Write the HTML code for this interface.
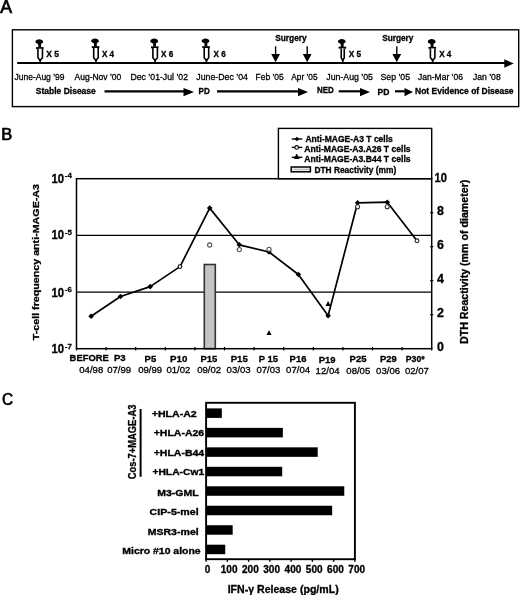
<!DOCTYPE html>
<html><head><meta charset="utf-8"><style>
html,body{margin:0;padding:0;background:#fff;width:520px;height:595px;overflow:hidden}
svg{display:block;font-family:"Liberation Sans", sans-serif;will-change:transform}
</style></head><body>
<svg width="520" height="595" viewBox="0 0 520 595">
<rect width="520" height="595" fill="#fff"/>
<text x="0.3" y="12.7" font-size="17.6" textLength="11.8" lengthAdjust="spacingAndGlyphs" fill="#000" stroke="#000" stroke-width="0.7">A</text>
<rect x="12.4" y="29.8" width="506.3" height="76.8" fill="none" stroke="#000" stroke-width="1.4"/>
<line x1="17.2" y1="63" x2="506" y2="63" stroke="#000" stroke-width="2.2"/>
<polygon points="504.3,59.3 513.8,63.4 504.3,67.8" fill="#000"/>
<path d="M35.35,42.10 C35.35,40.20 37.55,39.30 39.25,39.30 C41.05,39.30 43.15,40.20 43.15,42.10 C43.15,43.10 41.05,43.80 40.85,44.40 L38.05,44.40 C37.85,43.80 35.35,43.10 35.35,42.10 Z" fill="#000"/>
<rect x="38.25" y="44.0" width="2.8" height="3.4" fill="#000"/>
<rect x="36.05" y="47.1" width="7.6" height="1.9" fill="#000"/>
<path d="M37.95,48.80 L37.95,57.80 L40.20,60.40 L42.45,57.80 L42.45,48.80" fill="#fff" stroke="#000" stroke-width="1.6" stroke-linejoin="round"/>
<rect x="39.4" y="59.7" width="1.6" height="2.6" fill="#000"/>
<path d="M91.10,41.20 C91.10,39.30 93.30,38.40 95.00,38.40 C96.80,38.40 98.90,39.30 98.90,41.20 C98.90,42.20 96.80,42.90 96.60,43.50 L93.80,43.50 C93.60,42.90 91.10,42.20 91.10,41.20 Z" fill="#000"/>
<rect x="94.0" y="43.1" width="2.8" height="3.4" fill="#000"/>
<rect x="91.8" y="46.2" width="7.6" height="1.9" fill="#000"/>
<path d="M93.70,47.90 L93.70,57.80 L95.95,60.40 L98.20,57.80 L98.20,47.90" fill="#fff" stroke="#000" stroke-width="1.6" stroke-linejoin="round"/>
<rect x="95.14999999999999" y="59.7" width="1.6" height="2.6" fill="#000"/>
<path d="M150.30,41.40 C150.30,39.50 152.50,38.60 154.20,38.60 C156.00,38.60 158.10,39.50 158.10,41.40 C158.10,42.40 156.00,43.10 155.80,43.70 L153.00,43.70 C152.80,43.10 150.30,42.40 150.30,41.40 Z" fill="#000"/>
<rect x="153.2" y="43.300000000000004" width="2.8" height="3.4" fill="#000"/>
<rect x="151.0" y="46.400000000000006" width="7.6" height="1.9" fill="#000"/>
<path d="M152.90,48.10 L152.90,57.80 L155.15,60.40 L157.40,57.80 L157.40,48.10" fill="#fff" stroke="#000" stroke-width="1.6" stroke-linejoin="round"/>
<rect x="154.35" y="59.7" width="1.6" height="2.6" fill="#000"/>
<path d="M201.60,41.20 C201.60,39.30 203.80,38.40 205.50,38.40 C207.30,38.40 209.40,39.30 209.40,41.20 C209.40,42.20 207.30,42.90 207.10,43.50 L204.30,43.50 C204.10,42.90 201.60,42.20 201.60,41.20 Z" fill="#000"/>
<rect x="204.5" y="43.1" width="2.8" height="3.4" fill="#000"/>
<rect x="202.3" y="46.2" width="7.6" height="1.9" fill="#000"/>
<path d="M204.20,47.90 L204.20,57.80 L206.45,60.40 L208.70,57.80 L208.70,47.90" fill="#fff" stroke="#000" stroke-width="1.6" stroke-linejoin="round"/>
<rect x="205.65" y="59.7" width="1.6" height="2.6" fill="#000"/>
<path d="M427.80,41.90 C427.80,40.00 430.00,39.10 431.70,39.10 C433.50,39.10 435.60,40.00 435.60,41.90 C435.60,42.90 433.50,43.60 433.30,44.20 L430.50,44.20 C430.30,43.60 427.80,42.90 427.80,41.90 Z" fill="#000"/>
<rect x="430.7" y="43.800000000000004" width="2.8" height="3.4" fill="#000"/>
<rect x="428.5" y="46.900000000000006" width="7.6" height="1.9" fill="#000"/>
<path d="M430.40,48.60 L430.40,57.80 L432.65,60.40 L434.90,57.80 L434.90,48.60" fill="#fff" stroke="#000" stroke-width="1.6" stroke-linejoin="round"/>
<rect x="431.85" y="59.7" width="1.6" height="2.6" fill="#000"/>
<path d="M337.90,41.70 C337.90,39.80 340.10,38.90 341.80,38.90 C343.60,38.90 345.70,39.80 345.70,41.70 C345.70,42.70 343.60,43.40 343.40,44.00 L340.60,44.00 C340.40,43.40 337.90,42.70 337.90,41.70 Z" fill="#000"/>
<rect x="340.8" y="43.6" width="2.8" height="3.4" fill="#000"/>
<rect x="338.6" y="46.7" width="7.6" height="1.9" fill="#000"/>
<path d="M341.25,48.40 L341.25,57.80 L342.75,60.40 L344.25,57.80 L344.25,48.40" fill="#fff" stroke="#000" stroke-width="1.6" stroke-linejoin="round"/>
<rect x="341.95000000000005" y="59.7" width="1.6" height="2.6" fill="#000"/>
<text x="46.2" y="57" font-size="8.6" font-weight="bold" textLength="12.8" lengthAdjust="spacingAndGlyphs" fill="#000" stroke="#000" stroke-width="0.3">X 5</text>
<text x="101.9" y="56.5" font-size="8.6" font-weight="bold" textLength="12.2" lengthAdjust="spacingAndGlyphs" fill="#000" stroke="#000" stroke-width="0.3">X 4</text>
<text x="161" y="56.5" font-size="8.6" font-weight="bold" textLength="12.2" lengthAdjust="spacingAndGlyphs" fill="#000" stroke="#000" stroke-width="0.3">X 6</text>
<text x="213.6" y="56.5" font-size="8.6" font-weight="bold" textLength="12.2" lengthAdjust="spacingAndGlyphs" fill="#000" stroke="#000" stroke-width="0.3">X 6</text>
<text x="348.8" y="56.5" font-size="8.6" font-weight="bold" textLength="12.4" lengthAdjust="spacingAndGlyphs" fill="#000" stroke="#000" stroke-width="0.3">X 5</text>
<text x="439.2" y="56.5" font-size="8.6" font-weight="bold" textLength="12.2" lengthAdjust="spacingAndGlyphs" fill="#000" stroke="#000" stroke-width="0.3">X 4</text>
<rect x="274.90000000000003" y="46.3" width="1.4" height="8.5" fill="#000"/>
<polygon points="271.20000000000005,54 280.0,54 275.6,62.2" fill="#000"/>
<rect x="306.5" y="46.3" width="1.4" height="8.5" fill="#000"/>
<polygon points="302.8,54 311.59999999999997,54 307.2,62.2" fill="#000"/>
<rect x="396.1" y="46.3" width="1.4" height="8.5" fill="#000"/>
<polygon points="392.40000000000003,54 401.2,54 396.8,62.2" fill="#000"/>
<text x="275.2" y="41" font-size="8.5" font-weight="bold" textLength="31.5" lengthAdjust="spacingAndGlyphs" fill="#000" stroke="#000" stroke-width="0.3">Surgery</text>
<text x="382.2" y="41" font-size="8.5" font-weight="bold" textLength="31.2" lengthAdjust="spacingAndGlyphs" fill="#000" stroke="#000" stroke-width="0.3">Surgery</text>
<text x="14.5" y="79.5" font-size="9.3" textLength="50" lengthAdjust="spacingAndGlyphs" fill="#000" stroke="#000" stroke-width="0.3">June-Aug ’99</text>
<text x="74.5" y="79.5" font-size="9.3" textLength="46.8" lengthAdjust="spacingAndGlyphs" fill="#000" stroke="#000" stroke-width="0.3">Aug-Nov ’00</text>
<text x="130.5" y="79.5" font-size="9.3" textLength="57.5" lengthAdjust="spacingAndGlyphs" fill="#000" stroke="#000" stroke-width="0.3">Dec ’01-Jul ’02</text>
<text x="196.25" y="79.5" font-size="9.3" textLength="51.75" lengthAdjust="spacingAndGlyphs" fill="#000" stroke="#000" stroke-width="0.3">June-Dec ’04</text>
<text x="255.5" y="79.5" font-size="9.3" textLength="28.25" lengthAdjust="spacingAndGlyphs" fill="#000" stroke="#000" stroke-width="0.3">Feb ’05</text>
<text x="291.25" y="79.5" font-size="9.3" textLength="26.25" lengthAdjust="spacingAndGlyphs" fill="#000" stroke="#000" stroke-width="0.3">Apr ’05</text>
<text x="326.25" y="79.5" font-size="9.3" textLength="46.75" lengthAdjust="spacingAndGlyphs" fill="#000" stroke="#000" stroke-width="0.3">Jun-Aug ’05</text>
<text x="380.5" y="79.5" font-size="9.3" textLength="29.5" lengthAdjust="spacingAndGlyphs" fill="#000" stroke="#000" stroke-width="0.3">Sep ’05</text>
<text x="418" y="79.5" font-size="9.3" textLength="45" lengthAdjust="spacingAndGlyphs" fill="#000" stroke="#000" stroke-width="0.3">Jan-Mar ’06</text>
<text x="472.9" y="79.5" font-size="9.3" textLength="27.8" lengthAdjust="spacingAndGlyphs" fill="#000" stroke="#000" stroke-width="0.3">Jan ’08</text>
<text x="35.8" y="94.3" font-size="8.6" font-weight="bold" textLength="60" lengthAdjust="spacingAndGlyphs" fill="#000" stroke="#000" stroke-width="0.3">Stable Disease</text>
<text x="198.5" y="93.8" font-size="8.5" font-weight="bold" textLength="11.2" lengthAdjust="spacingAndGlyphs" fill="#000" stroke="#000" stroke-width="0.3">PD</text>
<text x="317" y="93.4" font-size="8.5" font-weight="bold" textLength="16.75" lengthAdjust="spacingAndGlyphs" fill="#000" stroke="#000" stroke-width="0.3">NED</text>
<text x="377.5" y="94.5" font-size="8.5" font-weight="bold" textLength="12" lengthAdjust="spacingAndGlyphs" fill="#000" stroke="#000" stroke-width="0.3">PD</text>
<text x="415" y="93.6" font-size="8.5" font-weight="bold" textLength="98.6" lengthAdjust="spacingAndGlyphs" fill="#000" stroke="#000" stroke-width="0.3">Not Evidence of Disease</text>
<line x1="104.5" y1="91.3" x2="184.5" y2="91.3" stroke="#000" stroke-width="2.2"/>
<polygon points="183.5,88.1 194,92.0 183.5,96.3" fill="#000"/>
<line x1="217" y1="91.3" x2="299" y2="91.3" stroke="#000" stroke-width="2.2"/>
<polygon points="298,88.1 308,92.0 298,96.3" fill="#000"/>
<line x1="338.75" y1="91.3" x2="361" y2="91.3" stroke="#000" stroke-width="2.2"/>
<polygon points="360,88.1 370,92.0 360,96.3" fill="#000"/>
<line x1="395" y1="91.3" x2="405.5" y2="91.3" stroke="#000" stroke-width="2.2"/>
<polygon points="404.5,88.1 413,92.0 404.5,96.3" fill="#000"/>
<text x="1.2" y="139.8" font-size="17.2" textLength="11.0" lengthAdjust="spacingAndGlyphs" fill="#000" stroke="#000" stroke-width="0.7">B</text>
<line x1="76.5" y1="235.36666666666665" x2="431.7" y2="235.36666666666665" stroke="#000" stroke-width="1.3"/>
<line x1="76.5" y1="292.0333333333333" x2="431.7" y2="292.0333333333333" stroke="#000" stroke-width="1.3"/>
<rect x="204.3" y="264.5" width="11.0" height="84.19999999999999" fill="#c4c4c4" stroke="#333" stroke-width="1.6"/>
<rect x="76.5" y="178.7" width="355.2" height="170.0" fill="none" stroke="#000" stroke-width="1.5"/>
<line x1="76.5" y1="346.9" x2="76.5" y2="350.5" stroke="#000" stroke-width="1.2"/>
<line x1="106.1" y1="346.9" x2="106.1" y2="350.5" stroke="#000" stroke-width="1.2"/>
<line x1="135.7" y1="346.9" x2="135.7" y2="350.5" stroke="#000" stroke-width="1.2"/>
<line x1="165.3" y1="346.9" x2="165.3" y2="350.5" stroke="#000" stroke-width="1.2"/>
<line x1="194.89999999999998" y1="346.9" x2="194.89999999999998" y2="350.5" stroke="#000" stroke-width="1.2"/>
<line x1="224.5" y1="346.9" x2="224.5" y2="350.5" stroke="#000" stroke-width="1.2"/>
<line x1="254.1" y1="346.9" x2="254.1" y2="350.5" stroke="#000" stroke-width="1.2"/>
<line x1="283.7" y1="346.9" x2="283.7" y2="350.5" stroke="#000" stroke-width="1.2"/>
<line x1="313.29999999999995" y1="346.9" x2="313.29999999999995" y2="350.5" stroke="#000" stroke-width="1.2"/>
<line x1="342.9" y1="346.9" x2="342.9" y2="350.5" stroke="#000" stroke-width="1.2"/>
<line x1="372.5" y1="346.9" x2="372.5" y2="350.5" stroke="#000" stroke-width="1.2"/>
<line x1="402.09999999999997" y1="346.9" x2="402.09999999999997" y2="350.5" stroke="#000" stroke-width="1.2"/>
<line x1="431.7" y1="346.9" x2="431.7" y2="350.5" stroke="#000" stroke-width="1.2"/>
<line x1="430.09999999999997" y1="314.7" x2="433.3" y2="314.7" stroke="#000" stroke-width="1.2"/>
<line x1="430.09999999999997" y1="280.7" x2="433.3" y2="280.7" stroke="#000" stroke-width="1.2"/>
<line x1="430.09999999999997" y1="246.7" x2="433.3" y2="246.7" stroke="#000" stroke-width="1.2"/>
<line x1="430.09999999999997" y1="212.7" x2="433.3" y2="212.7" stroke="#000" stroke-width="1.2"/>
<text x="51.5" y="183.2" font-size="12.8" font-weight="bold" textLength="12.6" lengthAdjust="spacingAndGlyphs" fill="#000" stroke="#000" stroke-width="0.3">10</text>
<text x="64.8" y="178.4" font-size="7.8" font-weight="bold" textLength="7.0" lengthAdjust="spacingAndGlyphs" fill="#000" stroke="#000" stroke-width="0.3">-4</text>
<text x="51.5" y="238.9" font-size="12.8" font-weight="bold" textLength="12.6" lengthAdjust="spacingAndGlyphs" fill="#000" stroke="#000" stroke-width="0.3">10</text>
<text x="64.8" y="234.7" font-size="7.8" font-weight="bold" textLength="7.0" lengthAdjust="spacingAndGlyphs" fill="#000" stroke="#000" stroke-width="0.3">-5</text>
<text x="51.5" y="296.8" font-size="12.8" font-weight="bold" textLength="12.6" lengthAdjust="spacingAndGlyphs" fill="#000" stroke="#000" stroke-width="0.3">10</text>
<text x="64.8" y="292.2" font-size="7.8" font-weight="bold" textLength="7.0" lengthAdjust="spacingAndGlyphs" fill="#000" stroke="#000" stroke-width="0.3">-6</text>
<text x="51.5" y="353.4" font-size="12.8" font-weight="bold" textLength="12.6" lengthAdjust="spacingAndGlyphs" fill="#000" stroke="#000" stroke-width="0.3">10</text>
<text x="64.8" y="349.1" font-size="7.8" font-weight="bold" textLength="7.0" lengthAdjust="spacingAndGlyphs" fill="#000" stroke="#000" stroke-width="0.3">-7</text>
<text x="434.6" y="181.9" font-size="12.4" font-weight="bold" textLength="12.4" lengthAdjust="spacingAndGlyphs" fill="#000" stroke="#000" stroke-width="0.3">10</text>
<text x="440.5" y="214.5" font-size="12.4" font-weight="bold" text-anchor="middle" fill="#000" stroke="#000" stroke-width="0.3">8</text>
<text x="440.5" y="249.2" font-size="12.4" font-weight="bold" text-anchor="middle" fill="#000" stroke="#000" stroke-width="0.3">6</text>
<text x="440.5" y="283.2" font-size="12.4" font-weight="bold" text-anchor="middle" fill="#000" stroke="#000" stroke-width="0.3">4</text>
<text x="440.5" y="317.2" font-size="12.4" font-weight="bold" text-anchor="middle" fill="#000" stroke="#000" stroke-width="0.3">2</text>
<text x="440.5" y="351.2" font-size="12.4" font-weight="bold" text-anchor="middle" fill="#000" stroke="#000" stroke-width="0.3">0</text>
<text transform="translate(39.4,262.1) rotate(-90)" text-anchor="middle" font-size="9.7" font-weight="bold" stroke="#000" stroke-width="0.3" textLength="156.2" lengthAdjust="spacingAndGlyphs">T-cell frequency anti-MAGE-A3</text>
<text transform="translate(467.8,261.8) rotate(-90)" text-anchor="middle" font-size="10.3" font-weight="bold" stroke="#000" stroke-width="0.3" textLength="164.4" lengthAdjust="spacingAndGlyphs">DTH Reactivity (mm of diameter)</text>
<text x="89.2" y="361.2" font-size="9.2" font-weight="bold" text-anchor="middle" textLength="39.2" lengthAdjust="spacingAndGlyphs" fill="#000" stroke="#000" stroke-width="0.3">BEFORE</text>
<text x="119.85" y="361.2" font-size="9.2" font-weight="bold" text-anchor="middle" textLength="11.7" lengthAdjust="spacingAndGlyphs" fill="#000" stroke="#000" stroke-width="0.3">P3</text>
<text x="150.4" y="362" font-size="9.2" font-weight="bold" text-anchor="middle" textLength="11.6" lengthAdjust="spacingAndGlyphs" fill="#000" stroke="#000" stroke-width="0.3">P5</text>
<text x="178.7" y="361.5" font-size="9.2" font-weight="bold" text-anchor="middle" textLength="17.3" lengthAdjust="spacingAndGlyphs" fill="#000" stroke="#000" stroke-width="0.3">P10</text>
<text x="208.9" y="361.5" font-size="9.2" font-weight="bold" text-anchor="middle" textLength="16.8" lengthAdjust="spacingAndGlyphs" fill="#000" stroke="#000" stroke-width="0.3">P15</text>
<text x="239.2" y="361.5" font-size="9.2" font-weight="bold" text-anchor="middle" textLength="17.1" lengthAdjust="spacingAndGlyphs" fill="#000" stroke="#000" stroke-width="0.3">P15</text>
<text x="268.4" y="361.5" font-size="9.2" font-weight="bold" text-anchor="middle" textLength="19.2" lengthAdjust="spacingAndGlyphs" fill="#000" stroke="#000" stroke-width="0.3">P 15</text>
<text x="298" y="361.5" font-size="9.2" font-weight="bold" text-anchor="middle" textLength="16.8" lengthAdjust="spacingAndGlyphs" fill="#000" stroke="#000" stroke-width="0.3">P16</text>
<text x="327.1" y="362.9" font-size="9.2" font-weight="bold" text-anchor="middle" textLength="16.8" lengthAdjust="spacingAndGlyphs" fill="#000" stroke="#000" stroke-width="0.3">P19</text>
<text x="358" y="361.8" font-size="9.2" font-weight="bold" text-anchor="middle" textLength="16.9" lengthAdjust="spacingAndGlyphs" fill="#000" stroke="#000" stroke-width="0.3">P25</text>
<text x="388.3" y="361.8" font-size="9.2" font-weight="bold" text-anchor="middle" textLength="16.7" lengthAdjust="spacingAndGlyphs" fill="#000" stroke="#000" stroke-width="0.3">P29</text>
<text x="415.2" y="361.8" font-size="9.2" font-weight="bold" text-anchor="middle" textLength="18.8" lengthAdjust="spacingAndGlyphs" fill="#000" stroke="#000" stroke-width="0.3">P30*</text>
<text x="91.25" y="372.8" font-size="9.4" text-anchor="middle" textLength="24" lengthAdjust="spacingAndGlyphs" fill="#000" stroke="#000" stroke-width="0.3">04/98</text>
<text x="119.15" y="372.8" font-size="9.4" text-anchor="middle" textLength="24" lengthAdjust="spacingAndGlyphs" fill="#000" stroke="#000" stroke-width="0.3">07/99</text>
<text x="150.2" y="373.3" font-size="9.4" text-anchor="middle" textLength="24" lengthAdjust="spacingAndGlyphs" fill="#000" stroke="#000" stroke-width="0.3">09/99</text>
<text x="178.4" y="372.8" font-size="9.4" text-anchor="middle" textLength="24" lengthAdjust="spacingAndGlyphs" fill="#000" stroke="#000" stroke-width="0.3">01/02</text>
<text x="209.2" y="372.8" font-size="9.4" text-anchor="middle" textLength="24" lengthAdjust="spacingAndGlyphs" fill="#000" stroke="#000" stroke-width="0.3">09/02</text>
<text x="238.6" y="372.8" font-size="9.4" text-anchor="middle" textLength="24" lengthAdjust="spacingAndGlyphs" fill="#000" stroke="#000" stroke-width="0.3">03/03</text>
<text x="268.4" y="372.8" font-size="9.4" text-anchor="middle" textLength="24" lengthAdjust="spacingAndGlyphs" fill="#000" stroke="#000" stroke-width="0.3">07/03</text>
<text x="298.1" y="372.8" font-size="9.4" text-anchor="middle" textLength="24" lengthAdjust="spacingAndGlyphs" fill="#000" stroke="#000" stroke-width="0.3">07/04</text>
<text x="327.6" y="374.2" font-size="9.4" text-anchor="middle" textLength="24" lengthAdjust="spacingAndGlyphs" fill="#000" stroke="#000" stroke-width="0.3">12/04</text>
<text x="358.3" y="373.5" font-size="9.4" text-anchor="middle" textLength="24" lengthAdjust="spacingAndGlyphs" fill="#000" stroke="#000" stroke-width="0.3">08/05</text>
<text x="388.1" y="373.5" font-size="9.4" text-anchor="middle" textLength="24" lengthAdjust="spacingAndGlyphs" fill="#000" stroke="#000" stroke-width="0.3">03/06</text>
<text x="416.9" y="373.5" font-size="9.4" text-anchor="middle" textLength="24" lengthAdjust="spacingAndGlyphs" fill="#000" stroke="#000" stroke-width="0.3">02/07</text>
<polyline points="91.1,316.2 120.5,296.5 150.2,286.6 180,266.6 209.7,208.1 239.3,244.8 269,252 298.4,274.5 328.1,315.7 357.6,202.8 387.3,202.2 417,240.8" fill="none" stroke="#000" stroke-width="1.7" stroke-linejoin="round"/>
<polygon points="91.1,313.4 93.89999999999999,316.2 91.1,319.0 88.3,316.2" fill="#000"/>
<polygon points="120.5,293.7 123.3,296.5 120.5,299.3 117.7,296.5" fill="#000"/>
<polygon points="150.2,283.8 153.0,286.6 150.2,289.40000000000003 147.39999999999998,286.6" fill="#000"/>
<polygon points="209.7,205.29999999999998 212.5,208.1 209.7,210.9 206.89999999999998,208.1" fill="#000"/>
<polygon points="239.3,242.0 242.10000000000002,244.8 239.3,247.60000000000002 236.5,244.8" fill="#000"/>
<polygon points="269,249.2 271.8,252 269,254.8 266.2,252" fill="#000"/>
<polygon points="298.4,271.7 301.2,274.5 298.4,277.3 295.59999999999997,274.5" fill="#000"/>
<polygon points="328.1,312.9 330.90000000000003,315.7 328.1,318.5 325.3,315.7" fill="#000"/>
<polygon points="357.6,200.0 360.40000000000003,202.8 357.6,205.60000000000002 354.8,202.8" fill="#000"/>
<polygon points="387.3,199.39999999999998 390.1,202.2 387.3,205.0 384.5,202.2" fill="#000"/>
<circle cx="180" cy="266.6" r="1.9" fill="#fff" stroke="#000" stroke-width="1.1"/>
<circle cx="209.7" cy="245" r="2.1" fill="#fff" stroke="#555" stroke-width="1.1"/>
<circle cx="239.3" cy="249.6" r="2.1" fill="#fff" stroke="#555" stroke-width="1.1"/>
<circle cx="269" cy="249.3" r="2.1" fill="#fff" stroke="#555" stroke-width="1.1"/>
<circle cx="357.6" cy="206.8" r="2" fill="#fff" stroke="#333" stroke-width="1.1"/>
<circle cx="387.2" cy="206.8" r="2" fill="#fff" stroke="#333" stroke-width="1.1"/>
<circle cx="417" cy="240.8" r="1.9" fill="#fff" stroke="#222" stroke-width="1.1"/>
<polygon points="269,330.14 271.6,335.08 266.4,335.08" fill="#000"/>
<polygon points="328.1,300.94 330.70000000000005,305.88 325.5,305.88" fill="#000"/>
<rect x="278.4" y="128.4" width="153.3" height="50.29999999999998" fill="#fff" stroke="#000" stroke-width="1.4"/>
<line x1="291.8" y1="139" x2="302.3" y2="139" stroke="#000" stroke-width="1.4"/>
<polygon points="296.9,136.7 299.2,139 296.9,141.3 294.59999999999997,139" fill="#000"/>
<line x1="291.8" y1="147.4" x2="302.3" y2="147.4" stroke="#000" stroke-width="1.4"/>
<circle cx="296.7" cy="147.4" r="1.8" fill="#fff" stroke="#000" stroke-width="1.1"/>
<line x1="291.8" y1="157.3" x2="302.3" y2="157.3" stroke="#000" stroke-width="1.4"/>
<polygon points="296.7,153.61 299.59999999999997,159.12 293.8,159.12" fill="#000"/>
<rect x="291.2" y="167" width="19.2" height="4.8" fill="#ececec" stroke="#000" stroke-width="1.5"/>
<line x1="293.5" y1="169.4" x2="309" y2="169.4" stroke="#aaa" stroke-width="0.8"/>
<text x="305.4" y="141.9" font-size="8.5" font-weight="bold" textLength="87.4" lengthAdjust="spacingAndGlyphs" fill="#000" stroke="#000" stroke-width="0.3">Anti-MAGE-A3 T cells</text>
<text x="304.2" y="152.1" font-size="8.5" font-weight="bold" textLength="106.4" lengthAdjust="spacingAndGlyphs" fill="#000" stroke="#000" stroke-width="0.3">Anti-MAGE-A3.A26 T cells</text>
<text x="304.2" y="162.1" font-size="8.5" font-weight="bold" textLength="106.4" lengthAdjust="spacingAndGlyphs" fill="#000" stroke="#000" stroke-width="0.3">Anti-MAGE-A3.B44 T cells</text>
<text x="314.4" y="172.6" font-size="8.5" font-weight="bold" textLength="81.8" lengthAdjust="spacingAndGlyphs" fill="#000" stroke="#000" stroke-width="0.3">DTH Reactivity (mm)</text>
<text x="2.0" y="405.3" font-size="16.9" textLength="11.1" lengthAdjust="spacingAndGlyphs" fill="#000" stroke="#000" stroke-width="0.7">C</text>
<rect x="206.1" y="408.4" width="15.730285714285714" height="9.5" fill="#000"/>
<text x="151.7" y="417.0" font-size="9.7" font-weight="bold" textLength="45.1" lengthAdjust="spacingAndGlyphs" fill="#000" stroke="#000" stroke-width="0.35">+HLA-A2</text>
<rect x="206.1" y="427.87" width="76.73828571428571" height="9.5" fill="#000"/>
<text x="153.7" y="436.47" font-size="9.7" font-weight="bold" textLength="50.5" lengthAdjust="spacingAndGlyphs" fill="#000" stroke="#000" stroke-width="0.35">+HLA-A26</text>
<rect x="206.1" y="447.34" width="111.6" height="9.5" fill="#000"/>
<text x="153.7" y="455.94" font-size="9.7" font-weight="bold" textLength="50.5" lengthAdjust="spacingAndGlyphs" fill="#000" stroke="#000" stroke-width="0.35">+HLA-B44</text>
<rect x="206.1" y="466.80999999999995" width="76.10057142857143" height="9.5" fill="#000"/>
<text x="152.4" y="475.40999999999997" font-size="9.7" font-weight="bold" textLength="51.8" lengthAdjust="spacingAndGlyphs" fill="#000" stroke="#000" stroke-width="0.35">+HLA-Cw1</text>
<rect x="206.1" y="486.28" width="138.17142857142855" height="9.5" fill="#000"/>
<text x="157.3" y="495.58" font-size="9.7" font-weight="bold" textLength="41.4" lengthAdjust="spacingAndGlyphs" fill="#000" stroke="#000" stroke-width="0.35">M3-GML</text>
<rect x="206.1" y="505.75" width="126.05485714285713" height="9.5" fill="#000"/>
<text x="149.6" y="515.05" font-size="9.7" font-weight="bold" textLength="49.1" lengthAdjust="spacingAndGlyphs" fill="#000" stroke="#000" stroke-width="0.35">CIP-5-mel</text>
<rect x="206.1" y="525.22" width="26.57142857142857" height="9.5" fill="#000"/>
<text x="147.7" y="534.52" font-size="9.7" font-weight="bold" textLength="51.0" lengthAdjust="spacingAndGlyphs" fill="#000" stroke="#000" stroke-width="0.35">MSR3-mel</text>
<rect x="206.1" y="544.6899999999999" width="19.131428571428568" height="9.5" fill="#000"/>
<text x="122.3" y="553.9899999999999" font-size="9.7" font-weight="bold" textLength="78.3" lengthAdjust="spacingAndGlyphs" fill="#000" stroke="#000" stroke-width="0.35">Micro #10 alone</text>
<rect x="206.1" y="402.8" width="148.79999999999998" height="156.40000000000003" fill="none" stroke="#000" stroke-width="1.9"/>
<line x1="206.1" y1="559.2" x2="206.1" y2="561.8000000000001" stroke="#000" stroke-width="1.4"/>
<text x="207.5" y="573.4" font-size="10" font-weight="bold" text-anchor="middle" fill="#000" stroke="#000" stroke-width="0.3">0</text>
<line x1="227.35714285714286" y1="559.2" x2="227.35714285714286" y2="561.8000000000001" stroke="#000" stroke-width="1.4"/>
<text x="229.15714285714287" y="573.4" font-size="10" font-weight="bold" text-anchor="middle" fill="#000" stroke="#000" stroke-width="0.3">100</text>
<line x1="248.6142857142857" y1="559.2" x2="248.6142857142857" y2="561.8000000000001" stroke="#000" stroke-width="1.4"/>
<text x="250.4142857142857" y="573.4" font-size="10" font-weight="bold" text-anchor="middle" fill="#000" stroke="#000" stroke-width="0.3">200</text>
<line x1="269.87142857142857" y1="559.2" x2="269.87142857142857" y2="561.8000000000001" stroke="#000" stroke-width="1.4"/>
<text x="271.6714285714286" y="573.4" font-size="10" font-weight="bold" text-anchor="middle" fill="#000" stroke="#000" stroke-width="0.3">300</text>
<line x1="291.12857142857143" y1="559.2" x2="291.12857142857143" y2="561.8000000000001" stroke="#000" stroke-width="1.4"/>
<text x="292.92857142857144" y="573.4" font-size="10" font-weight="bold" text-anchor="middle" fill="#000" stroke="#000" stroke-width="0.3">400</text>
<line x1="312.38571428571424" y1="559.2" x2="312.38571428571424" y2="561.8000000000001" stroke="#000" stroke-width="1.4"/>
<text x="314.18571428571425" y="573.4" font-size="10" font-weight="bold" text-anchor="middle" fill="#000" stroke="#000" stroke-width="0.3">500</text>
<line x1="333.6428571428571" y1="559.2" x2="333.6428571428571" y2="561.8000000000001" stroke="#000" stroke-width="1.4"/>
<text x="335.4428571428571" y="573.4" font-size="10" font-weight="bold" text-anchor="middle" fill="#000" stroke="#000" stroke-width="0.3">600</text>
<line x1="354.9" y1="559.2" x2="354.9" y2="561.8000000000001" stroke="#000" stroke-width="1.4"/>
<text x="356.7" y="573.4" font-size="10" font-weight="bold" text-anchor="middle" fill="#000" stroke="#000" stroke-width="0.3">700</text>
<text x="227.7" y="592.6" font-size="10" font-weight="bold" textLength="111" lengthAdjust="spacingAndGlyphs" fill="#000" stroke="#000" stroke-width="0.3">IFN-γ Release (pg/mL)</text>
<line x1="140.6" y1="409.0" x2="140.6" y2="476.8" stroke="#000" stroke-width="2.0"/>
<text transform="translate(135.7,441.9) rotate(-90)" text-anchor="middle" font-size="10.6" font-weight="bold" stroke="#000" stroke-width="0.3" textLength="74.7" lengthAdjust="spacingAndGlyphs">Cos-7+MAGE-A3</text>
</svg>
</body></html>
